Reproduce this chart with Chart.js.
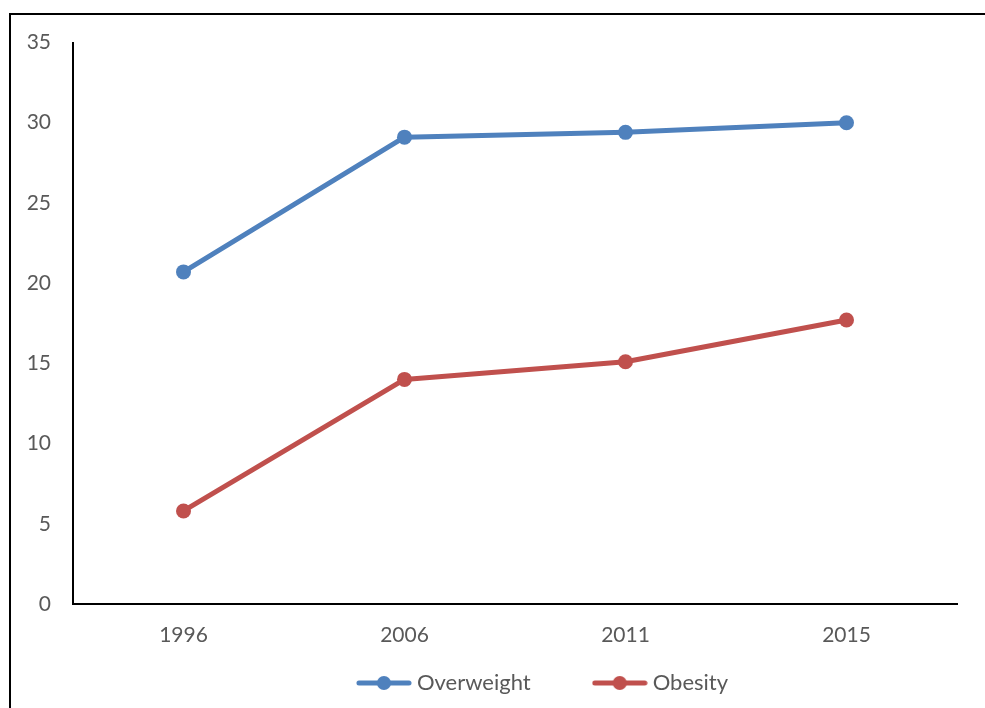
<!DOCTYPE html>
<html>
<head>
<meta charset="utf-8">
<script src="https://cdn.jsdelivr.net/npm/chart.js@4"></script>
<style>
  html, body { margin: 0; padding: 0; background: #fff; overflow: hidden; }
  #frame {
    position: absolute; left: 9px; top: 13px;
    width: 1068px; height: 698px;
    border-left: 2px solid #000; border-top: 2px solid #000;
  }
</style>
</head>
<body>
<div id="frame"><canvas id="chart" width="1068" height="698"></canvas></div>
<script>
// Data
const years = ["1996", "2006", "2011", "2015"];
const overweight = [20.7, 29.1, 29.4, 30.0];
const obesity = [5.8, 14.0, 15.1, 17.7];
const yMin = 0, yMax = 35, yStep = 5;

const blue = "#4F81BD";
const red = "#C0504D";
const grey = "#595959";

// legend marker: short line with a dot, like the original
function legendIcon(color) {
    const c = document.createElement("canvas");
    c.width = 56;
    c.height = 16;
    const g = c.getContext("2d");
    g.strokeStyle = color;
    g.lineWidth = 5;
    g.lineCap = "round";
    g.beginPath();
    g.moveTo(3, 8);
    g.lineTo(53, 8);
    g.stroke();
    g.fillStyle = color;
    g.beginPath();
    g.arc(28, 8, 7, 0, Math.PI * 2);
    g.fill();
    return c;
}
const icons = [legendIcon(blue), legendIcon(red)];

Chart.defaults.font.family = "Lato";
Chart.defaults.font.size = 21;
Chart.defaults.color = grey;

const ctx = document.getElementById("chart").getContext("2d");
const chart = new Chart(ctx, {
    type: "line",
    data: {
        labels: years,
        datasets: [
            {
                label: "Overweight",
                data: overweight,
                borderColor: blue,
                backgroundColor: blue,
                pointBackgroundColor: blue,
                pointBorderWidth: 0,
                pointRadius: 7.5,
                borderWidth: 5,
                borderCapStyle: "round",
                borderJoinStyle: "round"
            },
            {
                label: "Obesity",
                data: obesity,
                borderColor: red,
                backgroundColor: red,
                pointBackgroundColor: red,
                pointBorderWidth: 0,
                pointRadius: 7.5,
                borderWidth: 5,
                borderCapStyle: "round",
                borderJoinStyle: "round"
            }
        ]
    },
    options: {
        responsive: false,
        animation: false,
        layout: { padding: { top: 27.5, left: 0, right: 0, bottom: 9 } },
        scales: {
            x: {
                offset: true,
                grid: { display: false, drawTicks: false },
                border: { display: true, color: "#000", width: 2 },
                ticks: { padding: 19, color: grey },
                afterFit: s => { s.height = 46; }
            },
            y: {
                min: yMin,
                max: yMax,
                grid: { display: false, drawTicks: false },
                border: { display: true, color: "#000", width: 2 },
                ticks: { stepSize: yStep, padding: 22, color: grey },
                afterFit: s => { s.width = 62; s.paddingTop = 0; }
            },
            pad: {
                type: "linear",
                position: "right",
                grid: { display: false, drawTicks: false },
                border: { display: false },
                ticks: { display: false },
                afterFit: s => { s.width = 122; }
            }
        },
        plugins: {
            tooltip: { enabled: false },
            legend: {
                position: "bottom",
                labels: {
                    usePointStyle: true,
                    pointStyleWidth: 44,
                    padding: 22,
                    color: grey,
                    font: { size: 22 },
                    generateLabels: c => {
                        const items = Chart.defaults.plugins.legend.labels.generateLabels(c);
                        items.forEach((it, i) => {
                            it.pointStyle = icons[i];
                            // trailing blanks widen the gap between the two entries
                            if (i < items.length - 1) it.text += " ".repeat(8);
                        });
                        return items;
                    }
                }
            }
        }
    }
});
</script>
</body>
</html>
